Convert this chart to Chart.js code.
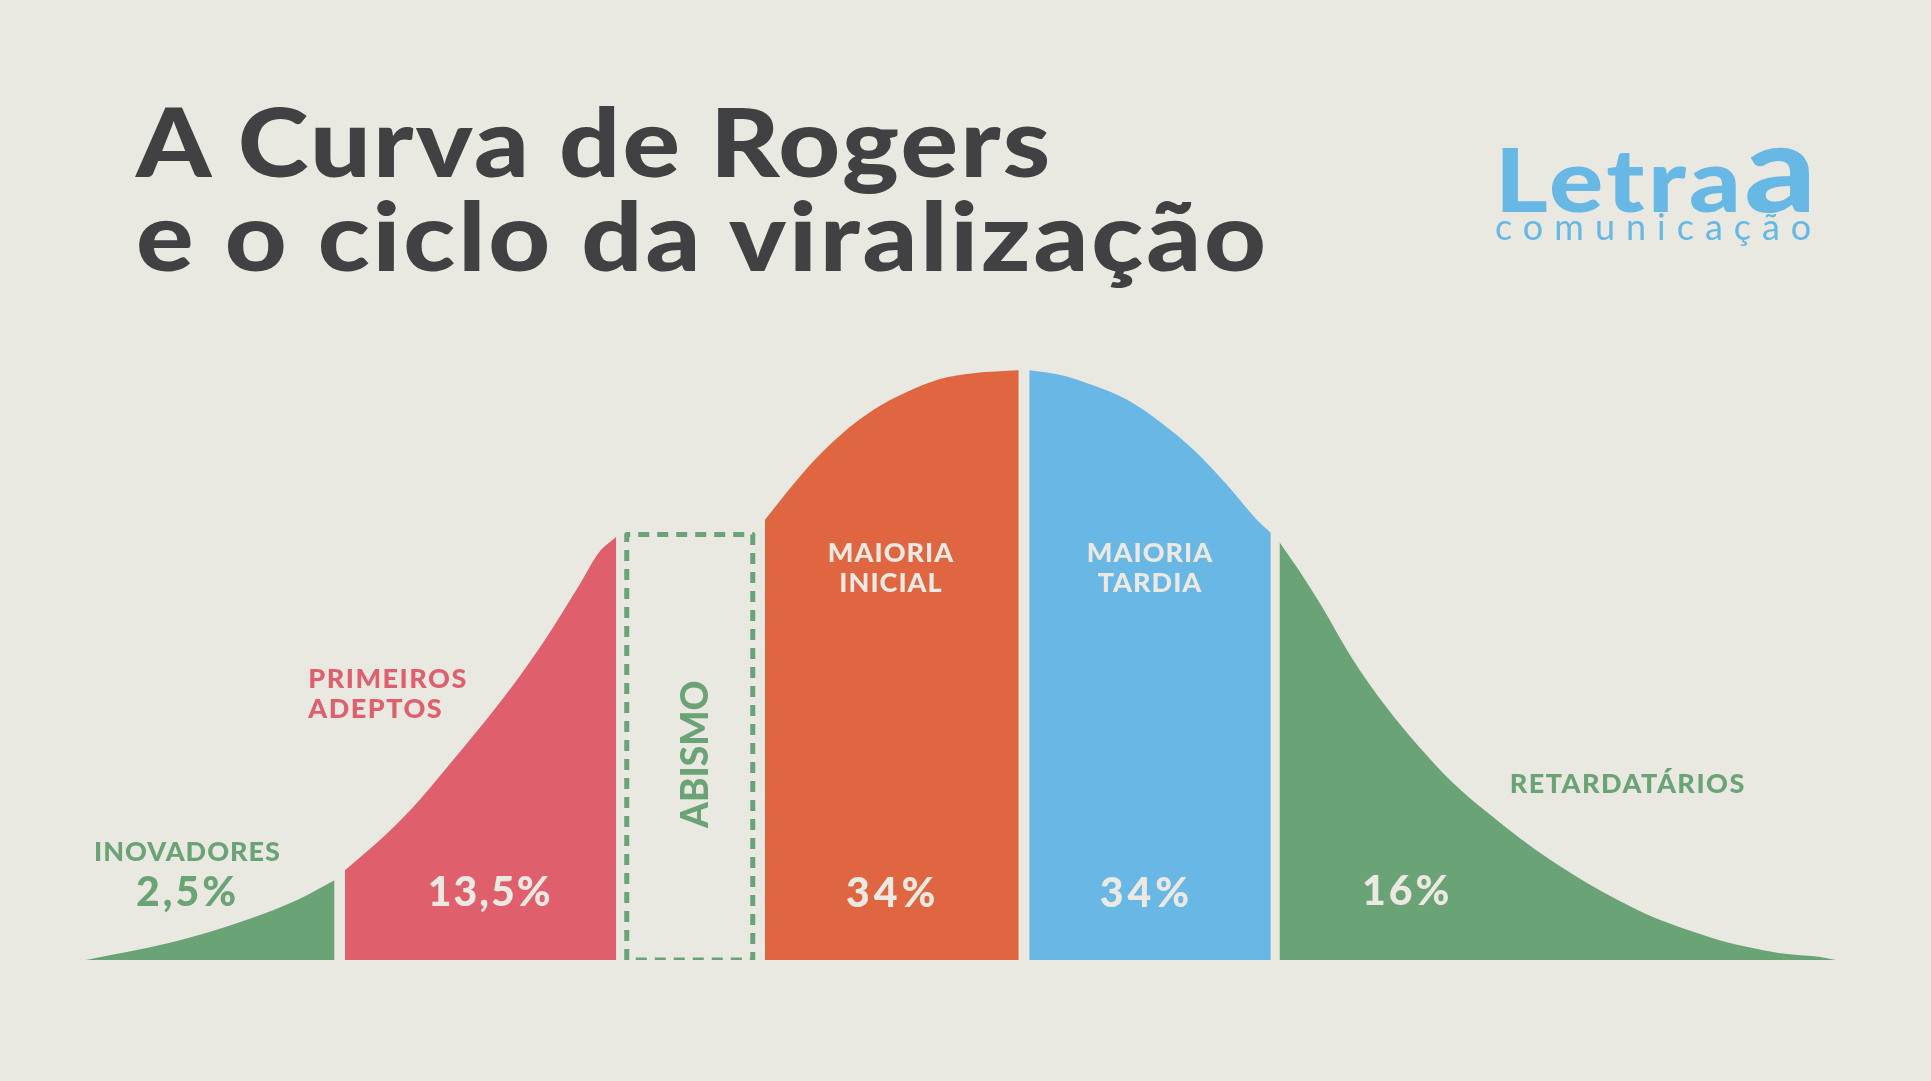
<!DOCTYPE html>
<html lang="pt-BR">
<head>
    <meta charset="UTF-8">
    <title>A Curva de Rogers</title>
    <script src="https://cdn.jsdelivr.net/npm/chart.js"></script>
    <style>
        * {
            padding: 0;
            margin: 0;
        }
        body {
            width: 1931px;
            height: 1081px;
            background-color: #e9e8e1;
            font-family: 'Lato', sans-serif;
            overflow: hidden;
            position: relative;
        }
        .chart-container {
            position: absolute;
            left: 0;
            top: 0;
            width: 1931px;
            height: 1081px;
        }
        #title {
            position: absolute;
            left: 136px;
            top: 93px;
            font-size: 95px;
            line-height: 94px;
            font-weight: 900;
            color: #414042;
            letter-spacing: 2px;
            transform: scaleX(1.13);
            transform-origin: left top;
            white-space: nowrap;
        }
        #title .l2 {
            letter-spacing: 2.5px;
        }
        #logo {
            position: absolute;
            left: 1495px;
            top: 134px;
            color: #68b8e6;
        }
        #logo .brand {
            font-size: 88px;
            line-height: 88px;
            font-weight: 900;
            letter-spacing: 3px;
            transform: scaleX(1.15);
            transform-origin: left top;
            white-space: nowrap;
        }
        #logo .brand span {
            font-size: 122px;
            line-height: 0;
        }
        #logo .sub {
            margin-top: -14px;
            font-size: 36px;
            line-height: 36px;
            font-weight: 400;
            letter-spacing: 11px;
        }
    </style>
</head>
<body>
    <div class="chart-container">
        <canvas id="myChart"></canvas>
    </div>
    <h1 id="title">A Curva de Rogers<br><span class="l2">e o ciclo da viralização</span></h1>
    <div id="logo">
        <div class="brand">Letra<span>a</span></div>
        <div class="sub">comunicação</div>
    </div>
    <script>
        // x: position along the curve (0 = left tail, 100 = right tail)
        // y: height of the curve (100 = peak)
        const groupNames = ['INOVADORES', 'PRIMEIROS ADEPTOS', 'MAIORIA INICIAL', 'MAIORIA TARDIA', 'RETARDATÁRIOS'];
        const groupShares = ['2,5%', '13,5%', '34%', '34%', '16%'];

        const inovadoresX = [0, 4.8, 9.2, 12.1, 14.2];
        const inovadoresY = [0, 2.9, 6.8, 10.2, 13.5];

        const primeirosX = [14.8, 16.8, 18.7, 20.6, 22.5, 24.4, 26.3, 28.2, 29.3, 30.3];
        const primeirosY = [15.2, 20.3, 25.9, 32.5, 39.3, 46.5, 54.5, 63.5, 68.9, 71.6];

        const abismoX = [30.9, 30.9, 38.1, 38.1, 30.9];
        const abismoY = [0, 72.0, 72.0, 0, 0];

        const inicialX = [38.8, 41.2, 43.1, 45.0, 46.9, 48.8, 50.7, 53.3];
        const inicialY = [74.5, 83.2, 88.8, 93.1, 96.1, 98.3, 99.3, 99.8];

        const tardiaX = [53.9, 55.7, 57.5, 59.5, 61.4, 63.3, 65.2, 66.9, 67.7];
        const tardiaY = [99.8, 99.0, 97.3, 94.8, 91.0, 86.3, 80.4, 74.5, 72.3];

        const retardX = [68.2, 69.3, 70.5, 72.4, 74.3, 76.2, 78.1, 80.1, 81.9, 83.8, 85.8, 87.7, 89.5, 91.5, 93.4, 95.3, 97.2, 99.1, 100];
        const retardY = [70.7, 66.0, 60.4, 50.8, 42.8, 36.0, 30.0, 24.9, 20.7, 16.7, 13.0, 9.9, 7.3, 5.1, 3.3, 2.0, 1.0, 0.5, 0];

        const colors = {
            green: '#6aa375',
            pink: '#df5f6c',
            orange: '#e06642',
            blue: '#68b7e5',
            light: '#ebe9e2'
        };

        function toPoints(xs, ys) {
            return xs.map((x, i) => ({ x: x, y: ys[i] }));
        }

        function areaDataset(xs, ys, color) {
            return {
                data: toPoints(xs, ys),
                backgroundColor: color,
                borderColor: color,
                borderWidth: 0,
                fill: 'origin',
                cubicInterpolationMode: 'monotone',
                pointRadius: 0
            };
        }

        // label anchors in data units (x, baseline y)
        const labels = [
            { text: groupNames[0], x: 5.8, y: 16.7, size: 27, sp: 1, color: colors.green, align: 'center' },
            { text: groupShares[0], x: 5.8, y: 9.1, size: 41, sp: 3, color: colors.green, align: 'center' },
            { text: 'PRIMEIROS', x: 12.7, y: 46.0, size: 27, sp: 1.5, color: colors.pink, align: 'left' },
            { text: 'ADEPTOS', x: 12.7, y: 40.9, size: 27, sp: 1.5, color: colors.pink, align: 'left' },
            { text: groupShares[1], x: 23.1, y: 9.1, size: 41, sp: 2, color: colors.light, align: 'center' },
            { text: 'MAIORIA', x: 46.0, y: 67.3, size: 27, sp: 1, color: colors.light, align: 'center' },
            { text: 'INICIAL', x: 46.0, y: 62.3, size: 27, sp: 1, color: colors.light, align: 'center' },
            { text: groupShares[2], x: 46.1, y: 9.0, size: 41, sp: 4, color: colors.light, align: 'center' },
            { text: 'MAIORIA', x: 60.8, y: 67.3, size: 27, sp: 1, color: colors.light, align: 'center' },
            { text: 'TARDIA', x: 60.8, y: 62.3, size: 27, sp: 1, color: colors.light, align: 'center' },
            { text: groupShares[3], x: 60.6, y: 9.0, size: 41, sp: 4, color: colors.light, align: 'center' },
            { text: groupNames[4], x: 88.1, y: 28.3, size: 27, sp: 1.5, color: colors.green, align: 'center' },
            { text: groupShares[4], x: 75.5, y: 9.3, size: 41, sp: 3, color: colors.light, align: 'center' }
        ];

        const labelPlugin = {
            id: 'curveLabels',
            afterDatasetsDraw(chart) {
                const c = chart.ctx;
                const xs = chart.scales.x;
                const ys = chart.scales.y;
                c.save();
                c.textBaseline = 'alphabetic';
                labels.forEach(l => {
                    c.font = `900 ${l.size}px Lato, sans-serif`;
                    if ('letterSpacing' in c) c.letterSpacing = l.sp + 'px';
                    c.fillStyle = l.color;
                    c.textAlign = l.align;
                    c.fillText(l.text, xs.getPixelForValue(l.x), ys.getPixelForValue(l.y));
                });
                // rotated label inside the dashed gap
                const cx = xs.getPixelForValue((abismoX[0] + abismoX[2]) / 2);
                const cy = ys.getPixelForValue(abismoY[1] / 2);
                c.translate(cx, cy);
                c.rotate(-Math.PI / 2);
                c.font = '900 37px Lato, sans-serif';
                if ('letterSpacing' in c) c.letterSpacing = '0px';
                c.fillStyle = colors.green;
                c.textAlign = 'center';
                c.fillText('ABISMO', -7, 18);
                c.restore();
            }
        };

        const ctx = document.getElementById('myChart').getContext('2d');
        const chart = new Chart(ctx, {
            type: 'line',
            data: {
                datasets: [
                    areaDataset(inovadoresX, inovadoresY, colors.green),
                    areaDataset(primeirosX, primeirosY, colors.pink),
                    areaDataset(inicialX, inicialY, colors.orange),
                    areaDataset(tardiaX, tardiaY, colors.blue),
                    areaDataset(retardX, retardY, colors.green),
                    {
                        data: toPoints(abismoX, abismoY),
                        borderColor: colors.green,
                        borderWidth: 5,
                        borderDash: [11, 8],
                        borderJoinStyle: 'round',
                        fill: false,
                        tension: 0,
                        pointRadius: 0
                    }
                ]
            },
            options: {
                responsive: true,
                maintainAspectRatio: false,
                animation: false,
                layout: {
                    padding: { left: 86, right: 95, top: 369, bottom: 121 }
                },
                scales: {
                    x: { type: 'linear', min: 0, max: 100, display: false },
                    y: { min: 0, max: 100, display: false }
                },
                plugins: {
                    legend: { display: false },
                    tooltip: { enabled: false }
                }
            },
            plugins: [labelPlugin]
        });
    </script>
</body>
</html>
